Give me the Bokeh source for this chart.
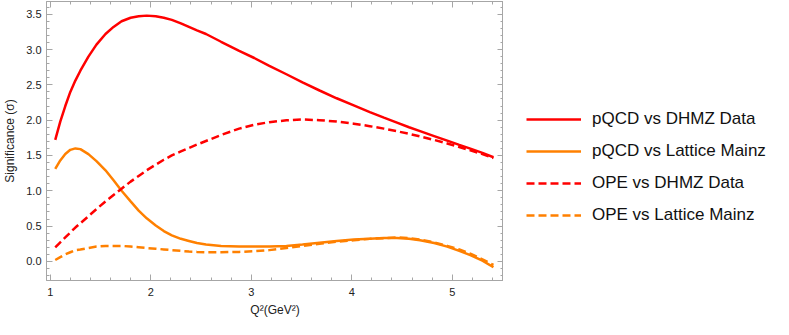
from bokeh.plotting import figure
from bokeh.layouts import row
from bokeh.models import (Range1d, LinearAxis, Legend, LegendItem, SingleIntervalTicker,
                          CustomJSTickFormatter, NumeralTickFormatter, ColumnDataSource)
from bokeh.embed import file_html
from bokeh.resources import INLINE

q2 = [1.05, 1.10, 1.15, 1.20, 1.25, 1.30, 1.38, 1.46, 1.55, 1.63, 1.71, 1.80, 1.88, 1.96,
      2.05, 2.13, 2.21, 2.30, 2.38, 2.46, 2.55, 2.70, 2.88, 3.03, 3.18, 3.35, 3.51, 3.68,
      3.85, 4.02, 4.18, 4.32, 4.45, 4.57, 4.68, 4.82, 4.95, 5.07, 5.18, 5.30, 5.41]

pqcd_dhmz = [1.72, 1.98, 2.20, 2.40, 2.56, 2.70, 2.90, 3.07, 3.22, 3.32, 3.40, 3.45, 3.47, 3.48,
             3.47, 3.45, 3.42, 3.37, 3.32, 3.27, 3.22, 3.11, 2.98, 2.88, 2.77, 2.65, 2.535, 2.42,
             2.31, 2.21, 2.115, 2.035, 1.965, 1.90, 1.845, 1.775, 1.71, 1.65, 1.597, 1.537, 1.475]

pqcd_lattice = [1.31, 1.43, 1.52, 1.58, 1.60, 1.59, 1.52, 1.42, 1.29, 1.15, 1.00, 0.85, 0.72, 0.61,
                0.51, 0.43, 0.37, 0.32, 0.29, 0.26, 0.24, 0.22, 0.21, 0.21, 0.21, 0.22, 0.24, 0.265,
                0.29, 0.31, 0.32, 0.33, 0.33, 0.32, 0.30, 0.26, 0.21, 0.15, 0.09, 0.01, -0.08]

ope_dhmz = [0.20, 0.27, 0.34, 0.41, 0.48, 0.54, 0.64, 0.74, 0.85, 0.94, 1.03, 1.13, 1.21, 1.29,
            1.37, 1.44, 1.50, 1.557, 1.606, 1.654, 1.705, 1.79, 1.88, 1.935, 1.972, 1.998, 2.01, 2.00,
            1.98, 1.95, 1.915, 1.88, 1.843, 1.806, 1.77, 1.72, 1.67, 1.62, 1.573, 1.52, 1.465]

ope_lattice = [0.02, 0.06, 0.10, 0.13, 0.16, 0.17, 0.19, 0.21, 0.22, 0.22, 0.22, 0.21, 0.20, 0.19,
               0.18, 0.17, 0.16, 0.15, 0.14, 0.135, 0.13, 0.13, 0.135, 0.145, 0.16, 0.19, 0.22, 0.25,
               0.28, 0.30, 0.32, 0.33, 0.34, 0.33, 0.31, 0.27, 0.22, 0.17, 0.11, 0.03, -0.05]

series_names = ["pQCD vs DHMZ Data", "pQCD vs Lattice Mainz", "OPE vs DHMZ Data", "OPE vs Lattice Mainz"]

RED = "#ff0000"
ORANGE = "#ff8000"
FRAME = "#a6a6a6"
FONT = "Liberation Sans"
styles = [dict(line_color=RED, line_width=2.5),
          dict(line_color=ORANGE, line_width=2.5),
          dict(line_color=RED, line_width=2.5, line_dash="8 4"),
          dict(line_color=ORANGE, line_width=2.5, line_dash="8 4")]

p = figure(width=503, height=319, output_backend="svg", toolbar_location=None,
           x_range=Range1d(0.963, 5.51), y_range=Range1d(-0.27, 3.68),
           min_border_top=1, min_border_left=40, min_border_right=0, min_border_bottom=0,
           x_axis_type=None, y_axis_type=None)
p.grid.visible = False
p.outline_line_color = FRAME
p.background_fill_color = "white"
p.border_fill_color = "white"

src = ColumnDataSource(dict(x=q2, a=pqcd_dhmz, b=pqcd_lattice, c=ope_dhmz, d=ope_lattice))
for col, st in zip(["a", "b", "c", "d"], styles):
    p.line("x", col, source=src, **st)

blank = CustomJSTickFormatter(code="return '';")

def style(ax, labels=True):
    ax.axis_line_color = FRAME
    ax.major_tick_line_color = FRAME
    ax.minor_tick_line_color = FRAME
    ax.major_tick_in = 6
    ax.major_tick_out = 0
    ax.minor_tick_in = 3
    ax.minor_tick_out = 0
    ax.major_label_text_font = FONT
    ax.major_label_text_font_size = "11px"
    ax.major_label_text_color = "#222222"
    ax.axis_label_text_font = FONT
    ax.axis_label_text_font_size = "12px"
    ax.axis_label_text_font_style = "normal"
    ax.axis_label_text_color = "#222222"
    if not labels:
        ax.formatter = blank
        ax.major_label_standoff = 0

xb = LinearAxis(ticker=SingleIntervalTicker(interval=1, num_minor_ticks=5),
                axis_label="Q²(GeV²)")
style(xb)
xb.major_label_standoff = 7
xb.axis_label_standoff = 4
p.add_layout(xb, "below")

yl = LinearAxis(ticker=SingleIntervalTicker(interval=0.5, num_minor_ticks=5),
                axis_label="Significance (σ)", formatter=NumeralTickFormatter(format="0.0"))
style(yl)
yl.major_label_standoff = 5
yl.axis_label_standoff = 6
p.add_layout(yl, "left")

xt = LinearAxis(ticker=SingleIntervalTicker(interval=1, num_minor_ticks=5))
style(xt, labels=False)
p.add_layout(xt, "above")

yr = LinearAxis(ticker=SingleIntervalTicker(interval=0.5, num_minor_ticks=5))
style(yr, labels=False)
p.add_layout(yr, "right")

# legend panel (legend-only renderers hold no visible data)
q = figure(width=270, height=319, output_backend="svg", toolbar_location=None,
           x_range=Range1d(0, 1), y_range=Range1d(0, 1),
           min_border=0, x_axis_type=None, y_axis_type=None)
q.grid.visible = False
q.outline_line_color = None
q.border_fill_color = "white"
items = []
nan = float("nan")
for name, st in zip(series_names, styles):
    rr = q.line(x=[nan], y=[nan], **st)
    items.append(LegendItem(label=name, renderers=[rr]))

legend = Legend(items=items, location=(23, 55), margin=0, padding=0, spacing=12,
                glyph_width=55, glyph_height=20, label_height=20, label_standoff=11,
                label_text_font=FONT, label_text_font_size="17px", label_text_color="#111111",
                border_line_color=None, background_fill_alpha=0)
q.add_layout(legend)

layout = row(p, q)
open("out.html", "w").write(file_html(layout, INLINE))
